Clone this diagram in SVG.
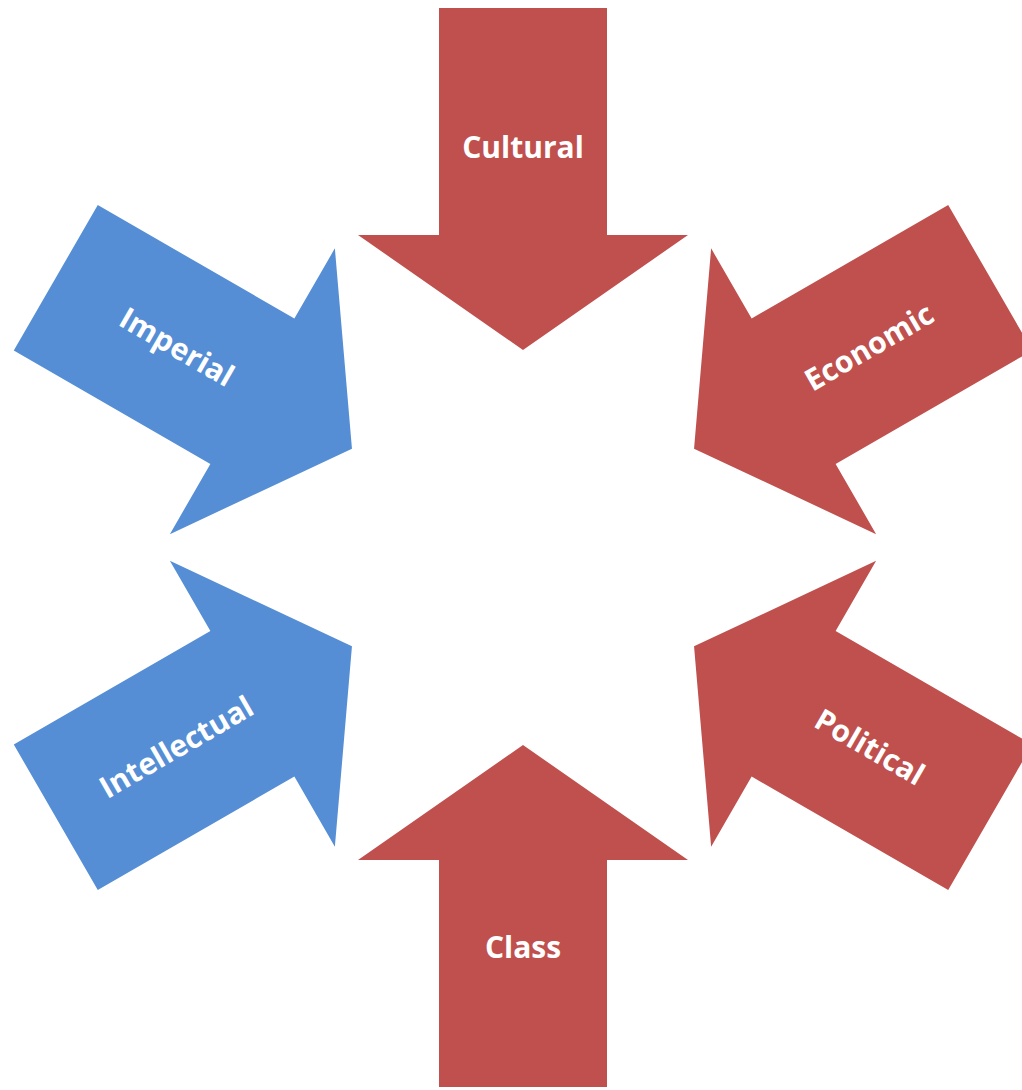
<svg xmlns="http://www.w3.org/2000/svg" xmlns:xlink="http://www.w3.org/1999/xlink" width="1022" height="1090" viewBox="0 0 1022 1090">
<style>
.red{fill:#C0504D}
.blue{fill:#558ED5}
.lbl{font-family:"Open Sans","Liberation Sans",sans-serif;font-weight:700;font-size:30px;fill:#FFFFFF;text-anchor:middle}
</style>
<defs>
<path id="arrow" d="M -84 -539.5 L 84 -539.5 L 84 -312.5 L 165 -312.5 L 0 -197.5 L -165 -312.5 L -84 -312.5 Z"/>
</defs>
<rect width="1022" height="1090" fill="#FFFFFF"/>
<g id="connectors"></g>
<g id="cultural">
<use xlink:href="#arrow" class="red" transform="translate(523 547.5)"/>
<text class="lbl" transform="translate(523 147.5)" y="10">Cultural</text>
</g>
<g id="economic">
<use xlink:href="#arrow" class="red" transform="translate(523 547.5) rotate(60)"/>
<text class="lbl" transform="translate(869.4 347.5) rotate(-30)" y="10">Economic</text>
</g>
<g id="political">
<use xlink:href="#arrow" class="red" transform="translate(523 547.5) rotate(120)"/>
<text class="lbl" transform="translate(869.4 747.5) rotate(30)" y="10">Political</text>
</g>
<g id="class">
<use xlink:href="#arrow" class="red" transform="translate(523 547.5) rotate(180)"/>
<text class="lbl" transform="translate(523 947.5)" y="10">Class</text>
</g>
<g id="intellectual">
<use xlink:href="#arrow" class="blue" transform="translate(523 547.5) rotate(240)"/>
<text class="lbl" transform="translate(176.6 747.5) rotate(-30)" y="10">Intellectual</text>
</g>
<g id="imperial">
<use xlink:href="#arrow" class="blue" transform="translate(523 547.5) rotate(300)"/>
<text class="lbl" transform="translate(176.6 347.5) rotate(30)" y="10">Imperial</text>
</g>
</svg>
